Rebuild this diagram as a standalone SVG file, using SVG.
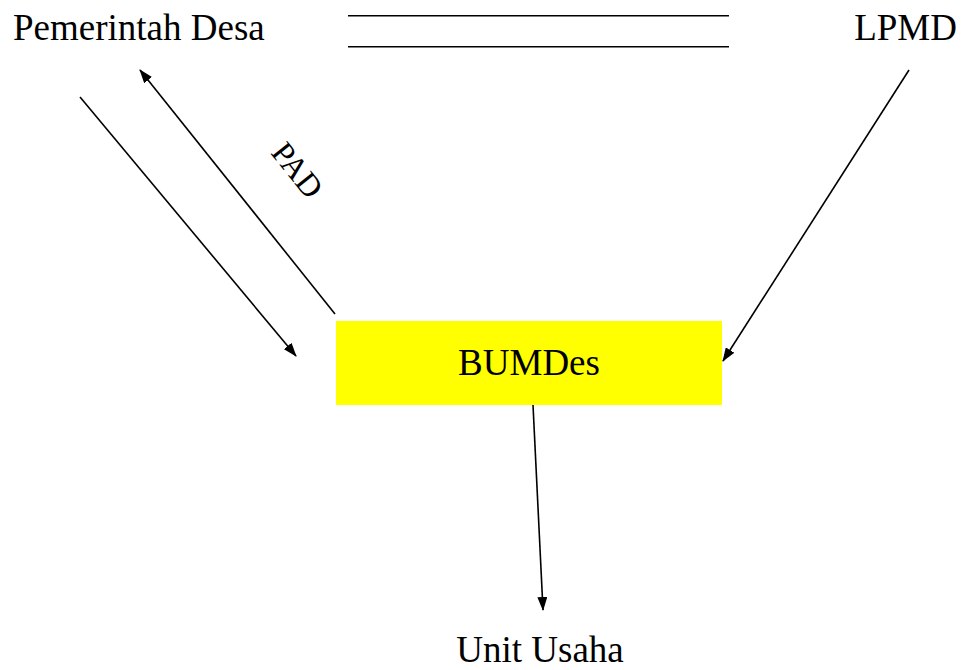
<svg xmlns="http://www.w3.org/2000/svg" width="965" height="670" viewBox="0 0 965 670">
<style>
.t{font-family:"Liberation Serif","Times New Roman",serif;font-size:37px;fill:#000}
.c{stroke:#000;stroke-width:1.6;fill:none}
</style>
<defs>
<marker id="ah" markerUnits="userSpaceOnUse" markerWidth="14" markerHeight="10" refX="13" refY="5" orient="auto">
<path d="M0,0 L14,5 L0,10 Z" fill="#000"/>
</marker>
</defs>
<rect width="965" height="670" fill="#fff"/>
<g id="pemerintah-desa"><text class="t" x="13" y="40">Pemerintah Desa</text></g>
<g id="lpmd"><text class="t" x="957" y="40" text-anchor="end">LPMD</text></g>
<g id="double-line">
<line x1="348" y1="15.7" x2="729" y2="15.7" stroke="#000" stroke-width="1.6"/>
<line x1="348" y1="46.7" x2="729" y2="46.7" stroke="#000" stroke-width="1.6"/>
</g>
<g id="bumdes">
<rect x="336" y="321" width="386" height="84" fill="#ffff00"/>
<text class="t" x="529" y="375" text-anchor="middle">BUMDes</text>
</g>
<g id="unit-usaha"><text class="t" x="540" y="662" text-anchor="middle">Unit Usaha</text></g>
<g id="connectors">
<line class="c" x1="80" y1="97" x2="296" y2="356" marker-end="url(#ah)"/>
<line class="c" x1="335" y1="314" x2="140" y2="70" marker-end="url(#ah)"/>
<line class="c" x1="909" y1="70" x2="723" y2="361" marker-end="url(#ah)"/>
<line class="c" x1="533" y1="405" x2="543" y2="610" marker-end="url(#ah)"/>
<text class="t" style="font-size:32px" transform="translate(270,153) rotate(51.4)">PAD</text>
</g>
</svg>
